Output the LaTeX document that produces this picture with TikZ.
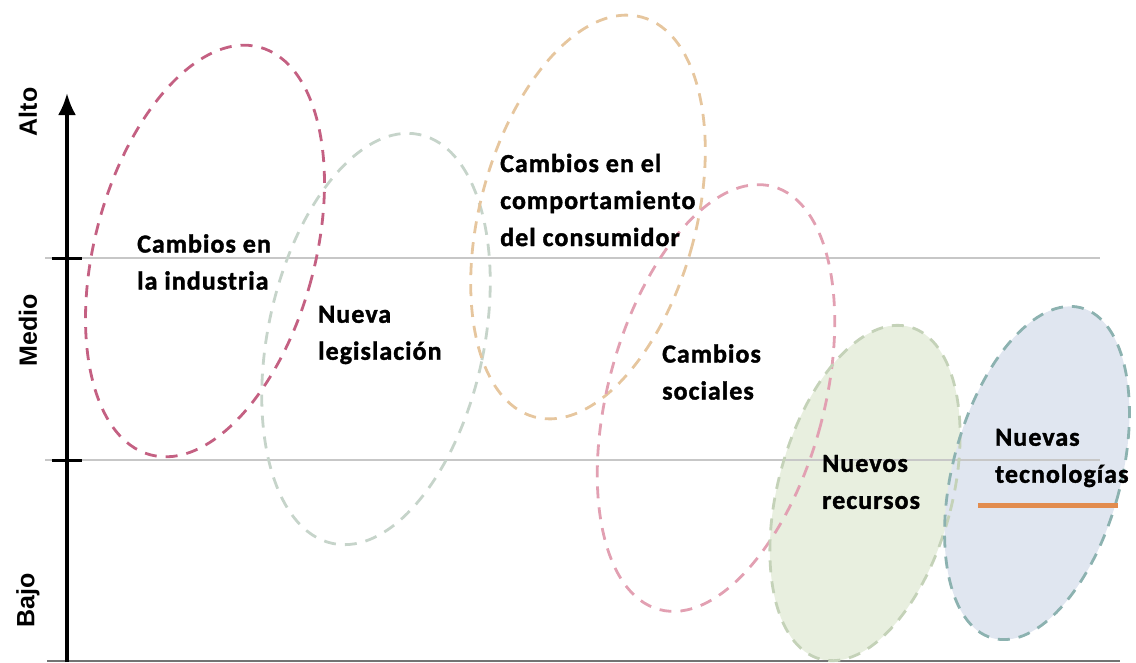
\documentclass[tikz,border=0pt]{standalone}
\usepackage{fontspec}
\setmainfont{Carlito}
\newfontfamily\lblfont{Carlito Bold}[FakeBold=1.5, LetterSpace=4]
\newfontfamily\axisfont{Liberation Sans}
\usepackage{tikz}
\usetikzlibrary{arrows.meta}
\definecolor{redline}{RGB}{196,96,130}
\definecolor{grayline}{RGB}{198,212,202}
\definecolor{tanline}{RGB}{230,198,158}
\definecolor{pinkline}{RGB}{226,160,178}
\definecolor{greenfill}{RGB}{232,239,223}
\definecolor{greenline}{RGB}{196,210,184}
\definecolor{bluefill}{RGB}{224,230,240}
\definecolor{blueline}{RGB}{140,178,176}
\definecolor{orangebar}{RGB}{226,140,78}
\tikzstyle{lbl} = [anchor=west, align=left, inner sep=0pt, font={\lblfont\fontsize{26}{37}\selectfont}]
\tikzstyle{lvl} = [rotate=90, inner sep=0pt, font={\axisfont\bfseries\fontsize{25}{30}\selectfont}]
\tikzstyle{gridline} = [draw=black!22, line width=1.5pt]
\tikzstyle{blob} = [dash pattern=on 12pt off 9pt, line width=2.8pt]

\begin{document}
\begin{tikzpicture}[x=1pt, y=-1pt]
      \useasboundingbox (0,0) rectangle (1136,662);
      % filled groups
      \fill [greenfill, rotate around={-15:(865,493)}] (865,493) ellipse [x radius=87, y radius=172];
      \fill [bluefill, rotate around={-15:(1037,473)}] (1037,473) ellipse [x radius=84, y radius=171];
      % levels
      \coordinate (origin) at (67,662);
      \coordinate (top) at (67,93);
      \coordinate (hi-l) at (45,258);
      \coordinate (hi-r) at (1100,258);
      \coordinate (lo-l) at (45,460);
      \coordinate (lo-r) at (1100,460);
      \coordinate (base-l) at (47,661);
      \coordinate (base-r) at (1120,661);
      \path [gridline] (hi-l) -- (hi-r);
      \path [gridline] (lo-l) -- (lo-r);
      \draw [black!55, line width=2pt] (base-l) -- (base-r);
      % dashed groups
      \draw [blob, grayline, rotate around={-12:(376,339)}] (376,339) ellipse [x radius=108, y radius=209];
      \draw [blob, redline, rotate around={-15:(205,251)}] (205,251) ellipse [x radius=110, y radius=211];
      \draw [blob, tanline, rotate around={-15:(588,217)}] (588,217) ellipse [x radius=108, y radius=207];
      \draw [blob, pinkline, rotate around={-15:(716,398)}] (716,398) ellipse [x radius=108, y radius=219];
      \draw [blob, greenline, rotate around={-15:(865,493)}] (865,493) ellipse [x radius=87, y radius=172];
      \draw [blob, blueline, rotate around={-15:(1037,473)}] (1037,473) ellipse [x radius=84, y radius=171];
      % axis
      \draw [line width=3.5pt, -{Latex[length=22pt, width=18pt]}] (origin) -- (top);
      \draw [line width=3pt] (52,258) -- (82,258);
      \draw [line width=3pt] (52,460) -- (82,460);
      \node [lvl] (alto) at (28,112) {Alto};
      \node [lvl] (medio) at (28,330) {Medio};
      \node [lvl] (bajo) at (28,600) {Bajo};
      % labels
      \node [lbl] (industria) at (137,262) {Cambios en\\la industria};
      \node [lbl] (legislacion) at (318,335) {Nueva\\legislación};
      \node [lbl] (consumidor) at (500,200) {Cambios en el\\comportamiento\\del consumidor};
      \node [lbl] (sociales) at (662,372) {Cambios\\sociales};
      \node [lbl] (recursos) at (822,482) {Nuevos\\recursos};
      \node [lbl] (tecnologias) at (995,458) {Nuevas\\tecnologías};
      \coordinate (bar-l) at (978,505);
      \coordinate (bar-r) at (1118,505);
      \draw [orangebar, line width=5pt] (bar-l) -- (bar-r);
    \end{tikzpicture}
\end{document}
